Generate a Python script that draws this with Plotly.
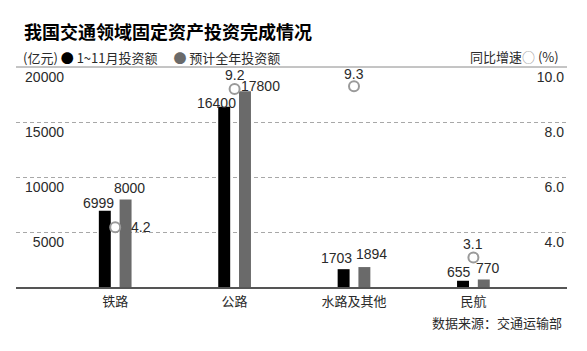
import plotly.graph_objects as go

# ---- data ----
categories = ["铁路", "公路", "水路及其他", "民航"]
invest_1_11 = [6999, 16400, 1703, 655]
invest_full_year = [8000, 17800, 1894, 770]
growth_rate = [4.2, 9.2, 9.3, 3.1]
left_ticks = [5000, 10000, 15000, 20000]
right_ticks = [4.0, 6.0, 8.0, 10.0]

# ---- layout geometry (pixels) ----
W, H = 587, 351
L, R, T, B = 16, 567, 67, 288


def px(x):
    return (x - L) / (R - L)


def py(y):
    return (B - y) / (B - T)


NUM_FONT = "Liberation Sans, Arial, Noto Sans CJK SC, sans-serif"
CJK_FONT = "Noto Sans CJK SC, Liberation Sans, sans-serif"
TXT = "#2a2a2a"

fig = go.Figure()
fig.add_trace(go.Bar(x=categories, y=invest_1_11, name="1~11月投资额",
                     marker=dict(color="#000000", line=dict(width=0))))
fig.add_trace(go.Bar(x=categories, y=invest_full_year, name="预计全年投资额",
                     marker=dict(color="#6a6a6a", line=dict(width=0))))
fig.add_trace(go.Scatter(x=categories, y=growth_rate, name="同比增速", yaxis="y2",
                         mode="markers",
                         marker=dict(symbol="circle", size=10, color="white",
                                     line=dict(color="#9a9a9a", width=2))))

# value labels offsets (px) relative to category centre / bar top
bar1_dx = [-17, -18, -18, -14]
bar1_dy = [8, 4, 11, 9]
bar2_dx = [14, 26, 17, 15]
bar2_dy = [12, 5, 13, 11]
rate_dx = [26, 0, 0, 0]
rate_dy = [0, 14, 12, 14]

ann = []
for i, c in enumerate(categories):
    ann.append(dict(x=c, y=invest_1_11[i], xref="x", yref="y", text=str(invest_1_11[i]),
                    showarrow=False, xshift=bar1_dx[i], yshift=bar1_dy[i],
                    font=dict(family=NUM_FONT, size=14, color=TXT)))
    ann.append(dict(x=c, y=invest_full_year[i], xref="x", yref="y", text=str(invest_full_year[i]),
                    showarrow=False, xshift=bar2_dx[i], yshift=bar2_dy[i],
                    font=dict(family=NUM_FONT, size=14, color=TXT)))
    ann.append(dict(x=c, y=growth_rate[i], xref="x", yref="y2", text=f"{growth_rate[i]:.1f}",
                    showarrow=False, xshift=rate_dx[i], yshift=rate_dy[i],
                    font=dict(family=NUM_FONT, size=14, color=TXT)))

# title, legend texts, source
ann.append(dict(x=px(22), y=py(31), xref="paper", yref="paper", xanchor="left", yanchor="middle",
                text="<b>我国交通领域固定资产投资完成情况</b>", showarrow=False,
                font=dict(family=CJK_FONT, size=18, color="#000")))
ann.append(dict(x=px(21), y=py(58), xref="paper", yref="paper", xanchor="left", yanchor="middle",
                text="(亿元) <span style='color:#000'>●</span> 1~11月投资额 　<span style='color:#6a6a6a'>●</span> 预计全年投资额",
                showarrow=False, font=dict(family=CJK_FONT, size=13, color=TXT)))
ann.append(dict(x=px(561), y=py(57), xref="paper", yref="paper", xanchor="right", yanchor="middle",
                text="同比增速<span style='color:#9a9a9a'>○</span> (%)",
                showarrow=False, font=dict(family=CJK_FONT, size=13, color=TXT)))
ann.append(dict(x=px(564), y=py(322), xref="paper", yref="paper", xanchor="right", yanchor="middle",
                text="数据来源：交通运输部", showarrow=False,
                font=dict(family=CJK_FONT, size=13, color=TXT)))

shapes = [
    dict(type="line", xref="paper", yref="paper", x0=0, x1=1, y0=1, y1=1,
         line=dict(color="#8a8a8a", width=1)),
    dict(type="line", xref="paper", yref="paper", x0=0, x1=1, y0=0, y1=0,
         line=dict(color="#555555", width=2)),
]

n = len(categories)
fig.update_layout(
    width=W, height=H,
    margin=dict(l=L, r=W - R, t=T, b=H - B, pad=0),
    paper_bgcolor="white", plot_bgcolor="white",
    showlegend=False,
    barmode="group", bargap=0.652, bargroupgap=0.425,
    xaxis=dict(type="category", range=[(L - 115.2) / 119.4, (n - 1) + (R - 473.4) / 119.4],
               showgrid=False, zeroline=False, showline=False, ticks="",
               tickfont=dict(family=CJK_FONT, size=13, color=TXT), ticklabelstandoff=4),
    yaxis=dict(range=[0, 20000], tickvals=left_ticks, ticktext=[str(v) for v in left_ticks],
               showgrid=True, gridcolor="#a8a8a8", griddash="4px,3px", gridwidth=1,
               zeroline=False, showline=False, ticks="",
               anchor="free", position=px(64),
               ticklabelposition="outside bottom",
               tickfont=dict(family=NUM_FONT, size=14, color=TXT)),
    yaxis2=dict(range=[2, 10], tickvals=right_ticks, ticktext=[f"{v:.1f}" for v in right_ticks],
                overlaying="y", side="right", showgrid=False, zeroline=False, showline=False,
                ticks="", ticklabelposition="inside bottom",
                tickfont=dict(family=NUM_FONT, size=14, color=TXT)),
    annotations=ann, shapes=shapes,
)

fig.write_html("out.html")
